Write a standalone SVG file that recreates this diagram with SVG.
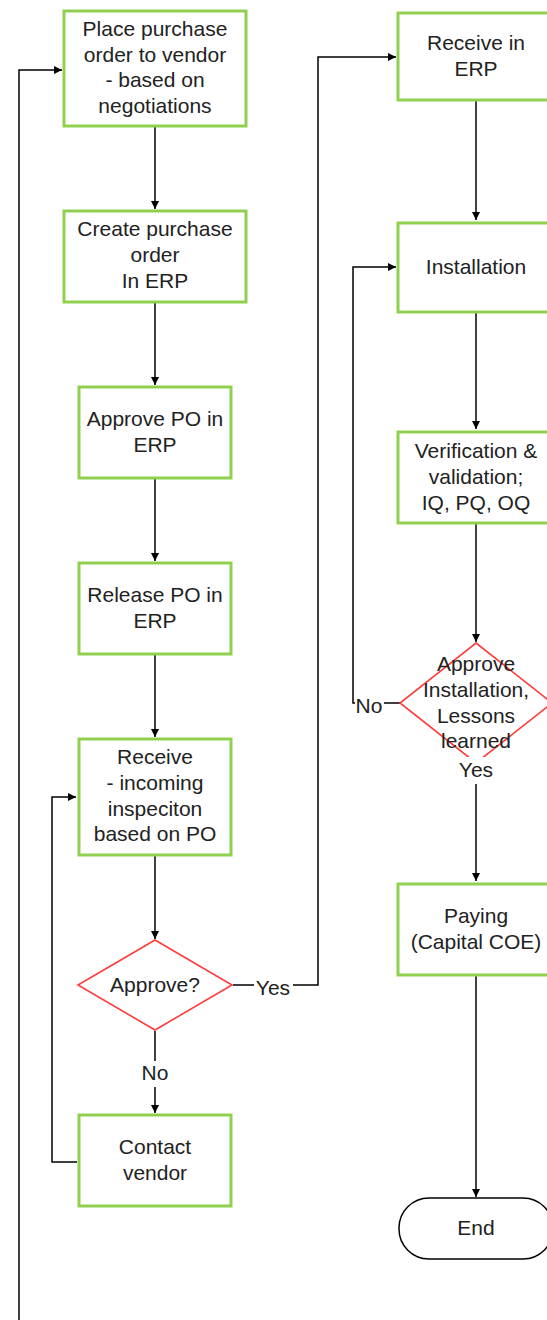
<svg xmlns="http://www.w3.org/2000/svg" width="547" height="1320" viewBox="0 0 547 1320">
<style>
.box{fill:#fff;stroke:#8fd14f;stroke-width:3}
.dia{fill:#fff;stroke:#ff3b3b;stroke-width:1.6}
.term{fill:#fff;stroke:#000;stroke-width:1.5}
.t{font-family:"Liberation Sans",Arial,sans-serif;font-size:21px;fill:#222;text-anchor:middle}
.c{fill:none;stroke:#000;stroke-width:1.5}
.lbl{fill:#fff}
</style>
<defs>
<marker id="ah" viewBox="0 0 10 10" refX="10" refY="5" markerWidth="8" markerHeight="8" markerUnits="userSpaceOnUse" orient="auto">
<path d="M0,0 L10,5 L0,10 Z" fill="#000"/>
</marker>
</defs>
<rect width="547" height="1320" fill="#fff"/>
<g id="connectors">
<path class="c" d="M155,127 V209" marker-end="url(#ah)"/>
<path class="c" d="M155,303 V385" marker-end="url(#ah)"/>
<path class="c" d="M155,479 V561" marker-end="url(#ah)"/>
<path class="c" d="M155,655 V737" marker-end="url(#ah)"/>
<path class="c" d="M155,856 V939" marker-end="url(#ah)"/>
<path class="c" d="M155,1031 V1113" marker-end="url(#ah)"/>
<path class="c" d="M77,1162 H52 V797 H76" marker-end="url(#ah)"/>
<path class="c" d="M19,1320 V70 H62" marker-end="url(#ah)"/>
<path class="c" d="M233,985 H318 V57 H396" marker-end="url(#ah)"/>
<path class="c" d="M476,101 V220" marker-end="url(#ah)"/>
<path class="c" d="M476,313 V429" marker-end="url(#ah)"/>
<path class="c" d="M476,524 V642" marker-end="url(#ah)"/>
<path class="c" d="M400,703 H353 V267 H396" marker-end="url(#ah)"/>
<path class="c" d="M476,763 V881" marker-end="url(#ah)"/>
<path class="c" d="M476,976 V1197" marker-end="url(#ah)"/>
<rect class="lbl" x="254" y="975" width="39" height="22"/>
<text class="t" x="273" y="995">Yes</text>
<rect class="lbl" x="140" y="1061" width="30" height="26"/>
<text class="t" x="155" y="1080">No</text>
<rect class="lbl" x="355" y="694" width="29" height="22"/>
<text class="t" x="369" y="713">No</text>
</g>
<g id="n1"><rect class="box" x="64" y="11" width="182" height="115"/>
<text class="t" x="155" y="36">Place purchase</text><text class="t" x="155" y="62">order to vendor</text><text class="t" x="155" y="87">- based on</text><text class="t" x="155" y="113">negotiations</text></g>
<g id="n2"><rect class="box" x="64" y="211" width="182" height="91"/>
<text class="t" x="155" y="236">Create purchase</text><text class="t" x="155" y="262">order</text><text class="t" x="155" y="288">In ERP</text></g>
<g id="n3"><rect class="box" x="79" y="387" width="152" height="91"/>
<text class="t" x="155" y="426">Approve PO in</text><text class="t" x="155" y="452">ERP</text></g>
<g id="n4"><rect class="box" x="79" y="563" width="152" height="91"/>
<text class="t" x="155" y="602">Release PO in</text><text class="t" x="155" y="628">ERP</text></g>
<g id="n5"><rect class="box" x="79" y="739" width="152" height="116"/>
<text class="t" x="155" y="764">Receive</text><text class="t" x="155" y="790">- incoming</text><text class="t" x="155" y="816">inspeciton</text><text class="t" x="155" y="841">based on PO</text></g>
<g id="n6"><path class="dia" d="M155,940 L232,985 L155,1030 L78,985 Z"/>
<text class="t" x="155" y="992">Approve?</text></g>
<g id="n7"><rect class="box" x="79" y="1115" width="152" height="91"/>
<text class="t" x="155" y="1154">Contact</text><text class="t" x="155" y="1180">vendor</text></g>
<g id="n8"><rect class="box" x="398" y="13" width="156" height="87"/>
<text class="t" x="476" y="50">Receive in</text><text class="t" x="476" y="76">ERP</text></g>
<g id="n9"><rect class="box" x="398" y="223" width="156" height="89"/>
<text class="t" x="476" y="274">Installation</text></g>
<g id="n10"><rect class="box" x="398" y="432" width="156" height="91"/>
<text class="t" x="476" y="458">Verification &amp;</text><text class="t" x="476" y="484">validation;</text><text class="t" x="476" y="510">IQ, PQ, OQ</text></g>
<g id="n11"><path class="dia" d="M476,643 L552,703 L476,763 L400,703 Z"/>
<text class="t" x="476" y="671">Approve</text><text class="t" x="476" y="697">Installation,</text><text class="t" x="476" y="723">Lessons</text><text class="t" x="476" y="748">learned</text>
<rect class="lbl" x="456" y="757" width="40" height="27"/>
<text class="t" x="476" y="777">Yes</text></g>
<g id="n12"><rect class="box" x="398" y="884" width="156" height="91"/>
<text class="t" x="476" y="923">Paying</text><text class="t" x="476" y="949">(Capital COE)</text></g>
<g id="n13"><rect class="term" x="399" y="1198" width="154" height="61" rx="30" ry="30"/>
<text class="t" x="476" y="1235">End</text></g>
</svg>
